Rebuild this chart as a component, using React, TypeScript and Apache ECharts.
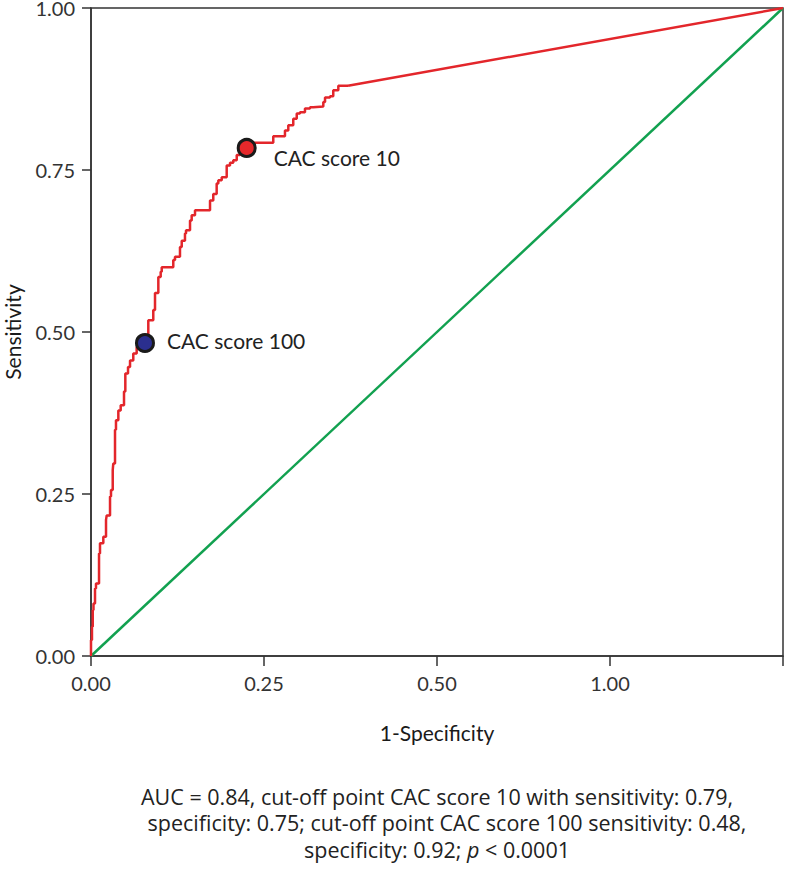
import React, { useEffect, useRef } from "react";
import * as echarts from "echarts";

// ROC curve (1-Specificity, Sensitivity)
const rocX = [
  0, 0.0014, 0.0025, 0.0036, 0.0058, 0.0072, 0.0116, 0.013, 0.0178, 0.0217,
  0.0227, 0.0275, 0.0289, 0.0314, 0.0322, 0.0347, 0.0361, 0.0395, 0.0429, 0.0477,
  0.0496, 0.0535, 0.0564, 0.0611, 0.066, 0.0756, 0.078, 0.0828, 0.09, 0.0925,
  0.0973, 0.1007, 0.1022, 0.1094, 0.1189, 0.1214, 0.1286, 0.1311, 0.1358, 0.1373,
  0.1431, 0.1455, 0.1503, 0.1575, 0.172, 0.1767, 0.1816, 0.184, 0.1889, 0.1961,
  0.2009, 0.2056, 0.2106, 0.2153, 0.225, 0.2345, 0.2634, 0.2659, 0.2803, 0.2851,
  0.2923, 0.2973, 0.302, 0.3092, 0.3165, 0.3212, 0.3357, 0.3382, 0.3454, 0.3501,
  0.3574, 0.3598, 0.3714,
];
const rocY = [
  0, 0.0247, 0.045, 0.071, 0.081, 0.104, 0.112, 0.158, 0.174, 0.184,
  0.21, 0.217, 0.246, 0.256, 0.287, 0.297, 0.349, 0.364, 0.379, 0.387,
  0.408, 0.436, 0.446, 0.456, 0.467, 0.477, 0.483, 0.492, 0.518, 0.534,
  0.56, 0.585, 0.593, 0.6, 0.6, 0.611, 0.616, 0.631, 0.641, 0.652,
  0.657, 0.672, 0.68, 0.688, 0.688, 0.703, 0.713, 0.729, 0.734, 0.739,
  0.757, 0.761, 0.765, 0.773, 0.784, 0.792, 0.792, 0.802, 0.802, 0.811,
  0.819, 0.829, 0.837, 0.839, 0.845, 0.847, 0.848, 0.855, 0.862, 0.864,
  0.873, 0.88, 0.88,
];
// final straight segment of the ROC curve
const rocTailX = [0.3714, 1];
const rocTailY = [0.88, 1];
// reference diagonal
const diagX = [0, 1];
const diagY = [0, 1];

// cut-off points
const cutLabels = ["CAC score 10", "CAC score 100"];
const cutX = [0.225, 0.078];
const cutY = [0.784, 0.483];

// tick labels
const xTickValues = [0, 0.25, 0.5, 0.75, 1];
const xTickLabels = ["0.00", "0.25", "0.50", "1.00", ""];
const yTickLabels = ["0.00", "0.25", "0.50", "0.75", "1.00"];

const xTitle = "1-Specificity";
const yTitle = "Sensitivity";
const footLines = [
  "AUC = 0.84, cut-off point CAC score 10 with sensitivity: 0.79,",
  "specificity: 0.75; cut-off point CAC score 100 sensitivity: 0.48,",
  "specificity: 0.92; {i|p} < 0.0001",
];

const FONT = "Lato, 'Noto Sans', sans-serif";
const FOOT_FONT = "'Open Sans', 'Noto Sans', sans-serif";

export default function App() {
  const ref = useRef<HTMLDivElement>(null);
  useEffect(() => {
    document.body.style.margin = "0";
    if (!ref.current) return;
    const chart = echarts.init(ref.current, null, { renderer: "svg" });
    const zip = (xs: number[], ys: number[]) => xs.map((x, i) => [x, ys[i]]);
    const fmt = (vals: number[], labels: string[]) => (v: number) => {
      const i = vals.findIndex((t) => Math.abs(t - v) < 1e-6);
      return i >= 0 ? labels[i] : "";
    };
    const yVals = [0, 0.25, 0.5, 0.75, 1];
    const cutStyles = [
      { color: "#e5282b", pos: "right", dist: 17, off: [0, 10] },
      { color: "#2b2f8f", pos: "right", dist: 12, off: [0, -3] },
    ];
    chart.setOption({
      animation: false,
      backgroundColor: "#ffffff",
      grid: {
        left: 91,
        right: 2,
        top: 8,
        bottom: 213,
        outerBoundsMode: "none",
        containLabel: false,
        show: true,
        borderColor: "#333",
        borderWidth: 1.5,
        backgroundColor: "transparent",
      },
      xAxis: {
        type: "value",
        min: 0,
        max: 1,
        interval: 0.25,
        name: xTitle,
        nameLocation: "middle",
        nameGap: 66,
        nameTextStyle: { fontFamily: FONT, fontSize: 21, color: "#1a1a1a" },
        axisLine: { show: true, lineStyle: { color: "#333", width: 1.5 } },
        axisTick: { show: true, length: 10, lineStyle: { color: "#333", width: 1.5 } },
        axisLabel: {
          margin: 17,
          fontFamily: FONT,
          fontSize: 20,
          color: "#333",
          formatter: fmt(xTickValues, xTickLabels),
          showMaxLabel: true,
          showMinLabel: true,
        },
        splitLine: { show: false },
      },
      yAxis: {
        type: "value",
        min: 0,
        max: 1,
        interval: 0.25,
        name: yTitle,
        nameLocation: "middle",
        nameGap: 68,
        nameTextStyle: { fontFamily: FONT, fontSize: 21, color: "#1a1a1a" },
        axisLine: { show: true, lineStyle: { color: "#333", width: 1.5 } },
        axisTick: { show: true, length: 9, lineStyle: { color: "#333", width: 1.5 } },
        axisLabel: {
          margin: 16,
          fontFamily: FONT,
          fontSize: 20,
          color: "#333",
          formatter: fmt(yVals, yTickLabels),
        },
        splitLine: { show: false },
      },
      series: [
        {
          type: "line",
          data: zip(diagX, diagY),
          symbol: "none",
          lineStyle: { color: "#12a150", width: 2.5 },
          z: 2,
        },
        {
          type: "line",
          data: zip(rocX, rocY),
          symbol: "none",
          step: "start",
          lineStyle: { color: "#e3262b", width: 2.5 },
          z: 3,
        },
        {
          type: "line",
          data: zip(rocTailX, rocTailY),
          symbol: "none",
          lineStyle: { color: "#e3262b", width: 2.5 },
          z: 3,
        },
        {
          type: "scatter",
          z: 5,
          symbolSize: 17,
          data: cutLabels.map((name, i) => ({
            name,
            value: [cutX[i], cutY[i]],
            itemStyle: { color: cutStyles[i].color, borderColor: "#1a1a1a", borderWidth: 3, opacity: 1 },
            label: {
              show: true,
              position: cutStyles[i].pos,
              distance: cutStyles[i].dist,
              offset: cutStyles[i].off,
              formatter: "{b}",
              fontFamily: FONT,
              fontSize: 21,
              color: "#222",
            },
          })),
        },
      ],
      graphic: footLines.map((t, i) => ({
        type: "text",
        x: [437, 447, 437][i],
        y: 796 + i * 26.5,
        style: {
          text: t,
          textAlign: "center",
          textVerticalAlign: "middle",
          fontFamily: FOOT_FONT,
          fontSize: 21.5,
          lineHeight: 24,
          fill: "#222",
          rich: {
            i: { fontStyle: "italic", fontFamily: FOOT_FONT, fontSize: 21.5, lineHeight: 24, fill: "#222" },
          },
        },
      })),
    });
    return () => chart.dispose();
  }, []);
  return <div ref={ref} style={{ width: 785, height: 869 }} />;
}
